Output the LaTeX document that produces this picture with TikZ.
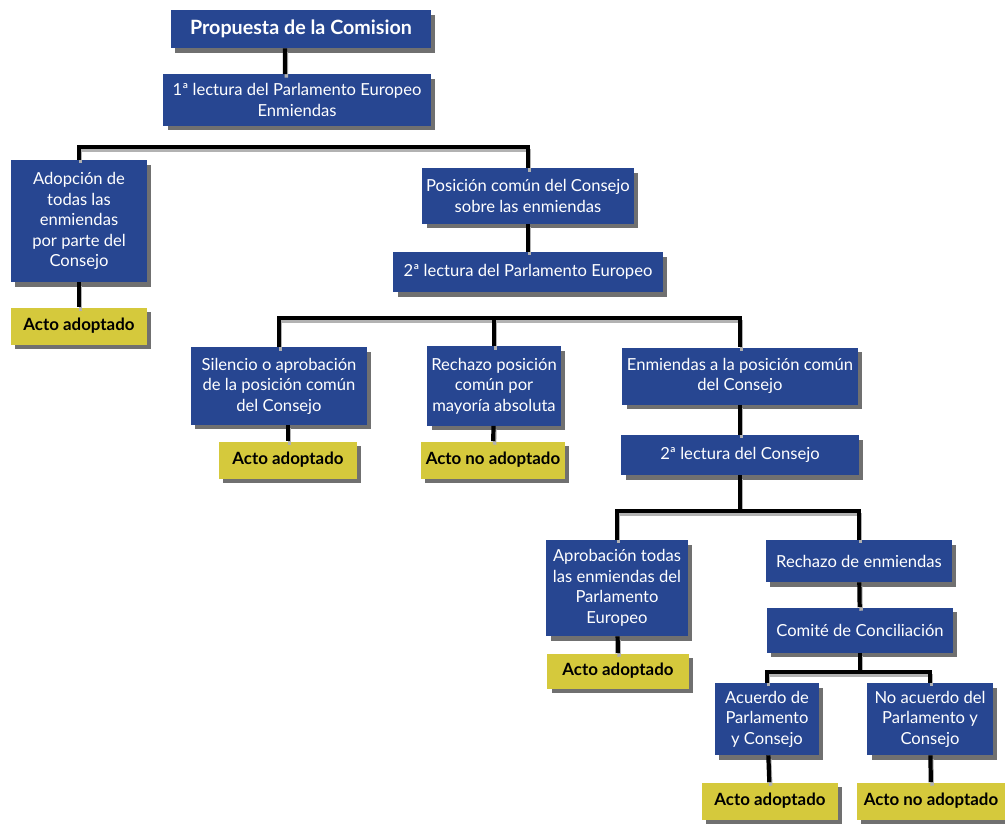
\documentclass[tikz,border=0pt]{standalone}
\usepackage{fontspec}
\setmainfont{Lato}
\usetikzlibrary{shadows}
\definecolor{azulcaja}{RGB}{39,70,145}
\definecolor{amarillo}{RGB}{213,201,60}
\tikzset{
  caja/.style={fill=azulcaja, text=white, align=center, inner sep=2pt,
    drop shadow={shadow xshift=3pt, shadow yshift=-3.5pt, fill=black!70, opacity=0.8}},
  acto/.style={fill=amarillo, text=black, align=center, inner sep=2pt, minimum height=0.925cm,
    font=\fontsize{12}{14}\selectfont\bfseries,
    drop shadow={shadow xshift=3pt, shadow yshift=-3.5pt, fill=black!70, opacity=0.8}},
  linea/.style={line width=3pt, black,
    preaction={draw=black!30, line width=2.5pt, transform canvas={xshift=1pt, yshift=-2.5pt}}}
}

\begin{document}
\begin{tikzpicture}[x=0.025cm, y=-0.025cm, font=\fontsize{11.8}{14.6}\selectfont]
    \useasboundingbox (0,0) rectangle (1005,823);

    % Primera lectura
    \node[caja, font=\fontsize{14}{16}\selectfont\bfseries, minimum width=6.5cm, minimum height=0.95cm] (prop) at (301,29) {Propuesta de la Comision};
    \node[caja, minimum width=6.675cm, minimum height=1.275cm] (lec1) at (297,100) {1ª lectura del Parlamento Europeo\\Enmiendas};
    \node[caja, minimum width=3.4cm, minimum height=3.05cm] (adop) at (79,221) {Adopción de\\todas las\\enmiendas\\por parte del\\Consejo};
    \node[caja, minimum width=5.275cm, minimum height=1.375cm] (posc) at (528,196) {Posición común del Consejo\\sobre las enmiendas};
    \node[acto, minimum width=3.4cm] (act1) at (79,326) {Acto adoptado};

    % Segunda lectura del Parlamento
    \node[caja, minimum width=6.725cm, minimum height=1cm] (lec2) at (528,272) {2ª lectura del Parlamento Europeo};
    \node[caja, minimum width=4.4cm, minimum height=1.925cm] (sil) at (279,386) {Silencio o aprobación\\de la posición común\\del Consejo};
    \node[caja, minimum width=3.325cm, minimum height=1.975cm] (rech) at (494,386) {Rechazo posición\\común por\\mayoría absoluta};
    \node[caja, minimum width=5.875cm, minimum height=1.425cm] (enm) at (740,376) {Enmiendas a la posición común\\del Consejo};
    \node[acto, minimum width=3.45cm] (act2) at (288,460) {Acto adoptado};
    \node[acto, minimum width=3.6cm] (act3) at (493,460) {Acto no adoptado};

    % Segunda lectura del Consejo
    \node[caja, minimum width=5.925cm, minimum height=1cm] (lecc) at (740,455) {2ª lectura del Consejo};
    \node[caja, minimum width=3.525cm, minimum height=2.4cm] (apr) at (617,588) {Aprobación todas\\las enmiendas del\\Parlamento\\Europeo};
    \node[caja, minimum width=4.65cm, minimum height=1.05cm] (rche) at (859,561) {Rechazo de enmiendas};
    \node[caja, minimum width=4.65cm, minimum height=1.125cm] (com) at (860,630) {Comité de Conciliación};
    \node[acto, minimum width=3.525cm, minimum height=0.875cm] (act4) at (618,671) {Acto adoptado};

    % Conciliacion
    \node[caja, minimum width=2.6cm, minimum height=1.8cm] (acu) at (767,719) {Acuerdo de\\Parlamento\\y Consejo};
    \node[caja, minimum width=3.125cm, minimum height=1.8cm] (noac) at (930,719) {No acuerdo del\\Parlamento y\\Consejo};
    \node[acto, minimum width=3.4cm] (act5) at (770,801) {Acto adoptado};
    \node[acto, minimum width=3.7cm] (act6) at (931,801) {Acto no adoptado};

    % Barras horizontales
    \coordinate (b1) at (0,147);
    \coordinate (b2) at (0,318);
    \coordinate (b3) at (0,511);
    \coordinate (b4) at (0,672);

    % Conectores
    \draw[linea] ([xshift=-0.4cm]prop.south) -- ([xshift=-0.3cm]lec1.north);
    \draw[linea] (adop.north) |- (b1 -| posc) -- (posc.north);
    \draw[linea] (posc) -- (lec2);
    \draw[linea] (sil.north) |- (b2 -| enm) -- (enm.north);
    \draw[linea] (rech.north) -- (rech.north |- b2);
    \draw[linea] (enm) -- (lecc);
    \draw[linea] (lecc.south) -- (lecc.south |- b3);
    \draw[linea] (apr.north) |- (b3 -| rche) -- (rche.north);
    \draw[linea] (rche) -- (com);
    \draw[linea] (com.south) -- (com.south |- b4);
    \draw[linea] (acu.north) |- (b4 -| noac) -- (noac.north);
    \draw[linea] (adop) -- (act1);
    \draw[linea] (sil.south -| act2) -- (act2);
    \draw[linea] (rech) -- (act3);
    \draw[linea] (apr) -- (act4);
    \draw[linea] (acu) -- (act5);
    \draw[linea] (noac) -- (act6);
\end{tikzpicture}
\end{document}
